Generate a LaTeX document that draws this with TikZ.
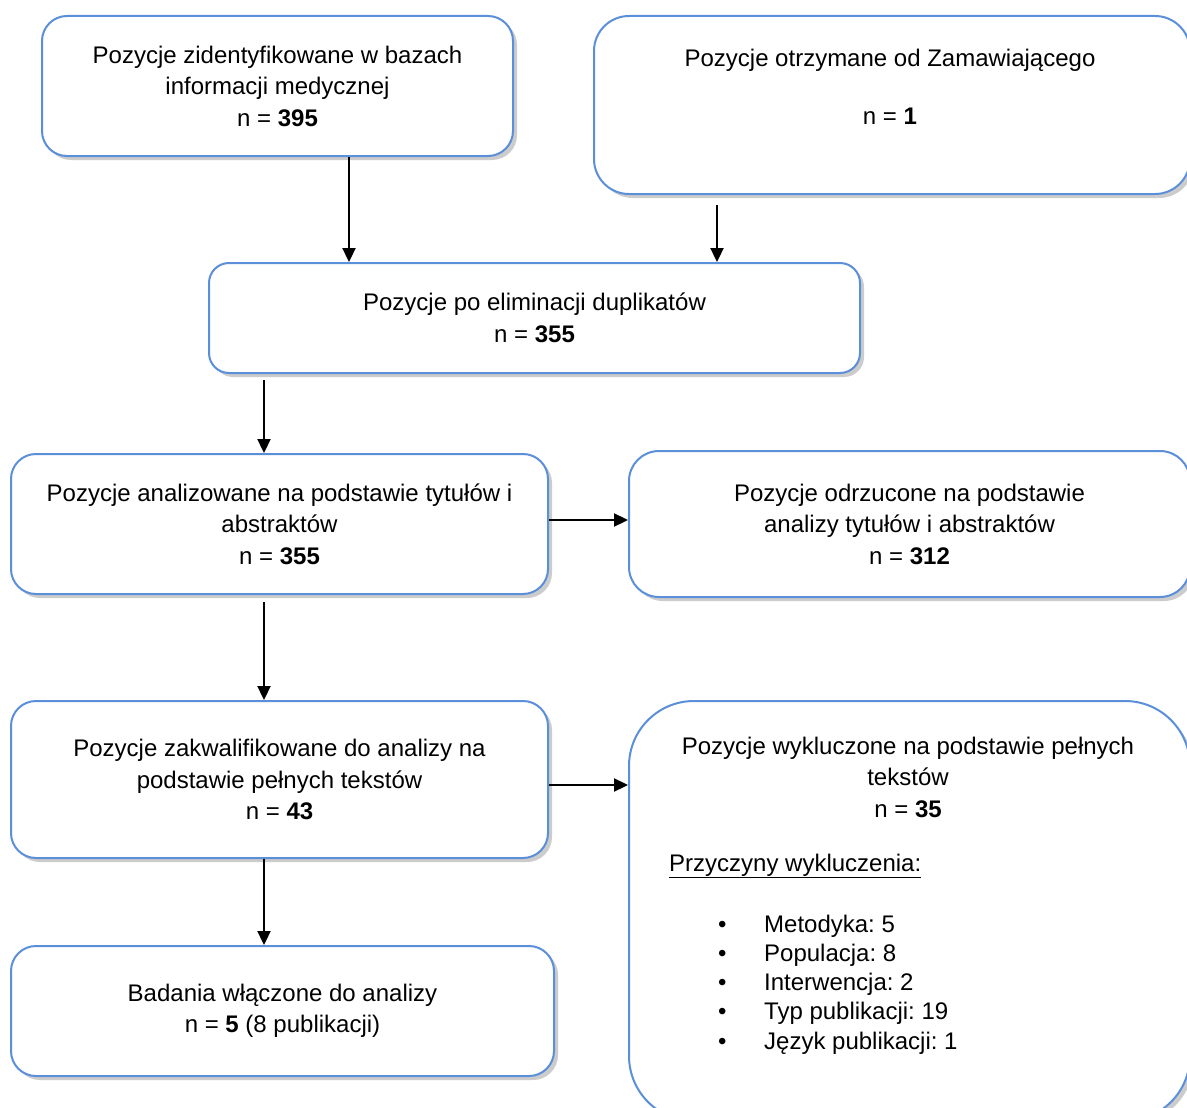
\documentclass[tikz,border=0pt]{standalone}
\usepackage{fontspec}
\setmainfont{Liberation Sans}
\usetikzlibrary{arrows.meta,shadows}
\frenchspacing
\definecolor{boxblue}{RGB}{91,143,217}
\tikzset{
  box/.style={draw=boxblue, line width=2pt, fill=white, rounded corners=#1,
    anchor=north west, inner sep=0pt, align=center,
    drop shadow={shadow xshift=4pt, shadow yshift=-4pt, fill=black!20, opacity=1}},
  box/.default=25pt,
  arr/.style={line width=2.3pt, -{Triangle[length=14pt,width=13pt]}},
}
\begin{document}
\begin{tikzpicture}[x=1pt,y=-1pt, font=\fontsize{24}{31.5}\selectfont]

    % Page
    \fill[white] (0,0) rectangle (1187,1108);
    \useasboundingbox (0,0) rectangle (1187,1108);
    \clip (0,0) rectangle (1187,1108);

    % Sources
    \node[box, minimum width=471pt, minimum height=140pt] (ident) at (41,15)
        {Pozycje zidentyfikowane w bazach\\informacji medycznej\\n = \textbf{395}};
    \node[box=35pt, minimum width=596pt, minimum height=178pt] (zamaw) at (593,15) {};
    \node[align=center] (zamawtxt) at (890,87)
        {Pozycje otrzymane od Zamawiającego\\[27pt]n = \textbf{1}};

    % Duplicates
    \node[box=20pt, minimum width=651pt, minimum height=110pt] (dupl) at (208,262)
        {Pozycje po eliminacji duplikatów\\n = \textbf{355}};

    % Titles and abstracts
    \node[box, minimum width=537pt, minimum height=140pt] (abstr) at (10,453)
        {Pozycje analizowane na podstawie tytułów i\\abstraktów\\n = \textbf{355}};
    \node[box=30pt, minimum width=561pt, minimum height=146pt] (odrz) at (628,450)
        {Pozycje odrzucone na podstawie\\analizy tytułów i abstraktów\\n = \textbf{312}};

    % Full texts
    \node[box, minimum width=537pt, minimum height=157pt] (pelne) at (10,700)
        {Pozycje zakwalifikowane do analizy na\\podstawie pełnych tekstów\\n = \textbf{43}};
    \node[box=65pt, minimum width=561pt, minimum height=420pt] (wykl) at (628,700) {};
    \node[align=center] (wykltxt) at (908,777)
        {Pozycje wykluczone na podstawie pełnych\\tekstów\\n = \textbf{35}};
    \node[anchor=west, inner sep=0pt] (przycz) at (669,866) {\underline{Przyczyny wykluczenia:}};
    \node[anchor=west, inner sep=0pt, align=left, font=\fontsize{24}{29.25}\selectfont] (powody) at (718,984.5)
        {\makebox[46pt][l]{\textbullet}Metodyka: 5\\
         \makebox[46pt][l]{\textbullet}Populacja: 8\\
         \makebox[46pt][l]{\textbullet}Interwencja: 2\\
         \makebox[46pt][l]{\textbullet}Typ publikacji: 19\\
         \makebox[46pt][l]{\textbullet}Język publikacji: 1};

    % Included
    \node[box, minimum width=543pt, minimum height=130pt] (wlacz) at (10,945)
        {Badania włączone do analizy\\n = \textbf{5} (8 publikacji)};

    % Arrows
    \coordinate (xa) at (349,0);
    \coordinate (xb) at (717,0);
    \coordinate (xc) at (264,0);
    \coordinate (ya) at (0,520);
    \coordinate (yb) at (0,785);
    \draw[arr] (ident.south -| xa) -- (dupl.north -| xa);
    \draw[arr, shorten <=10pt] (zamaw.south -| xb) -- (dupl.north -| xb);
    \draw[arr, shorten <=6pt] (dupl.south -| xc) -- (abstr.north -| xc);
    \draw[arr] (abstr.east |- ya) -- (odrz.west |- ya);
    \draw[arr, shorten <=7pt] (abstr.south -| xc) -- (pelne.north -| xc);
    \draw[arr] (pelne.east |- yb) -- (wykl.west |- yb);
    \draw[arr] (pelne.south -| xc) -- (wlacz.north -| xc);

\end{tikzpicture}
\end{document}
